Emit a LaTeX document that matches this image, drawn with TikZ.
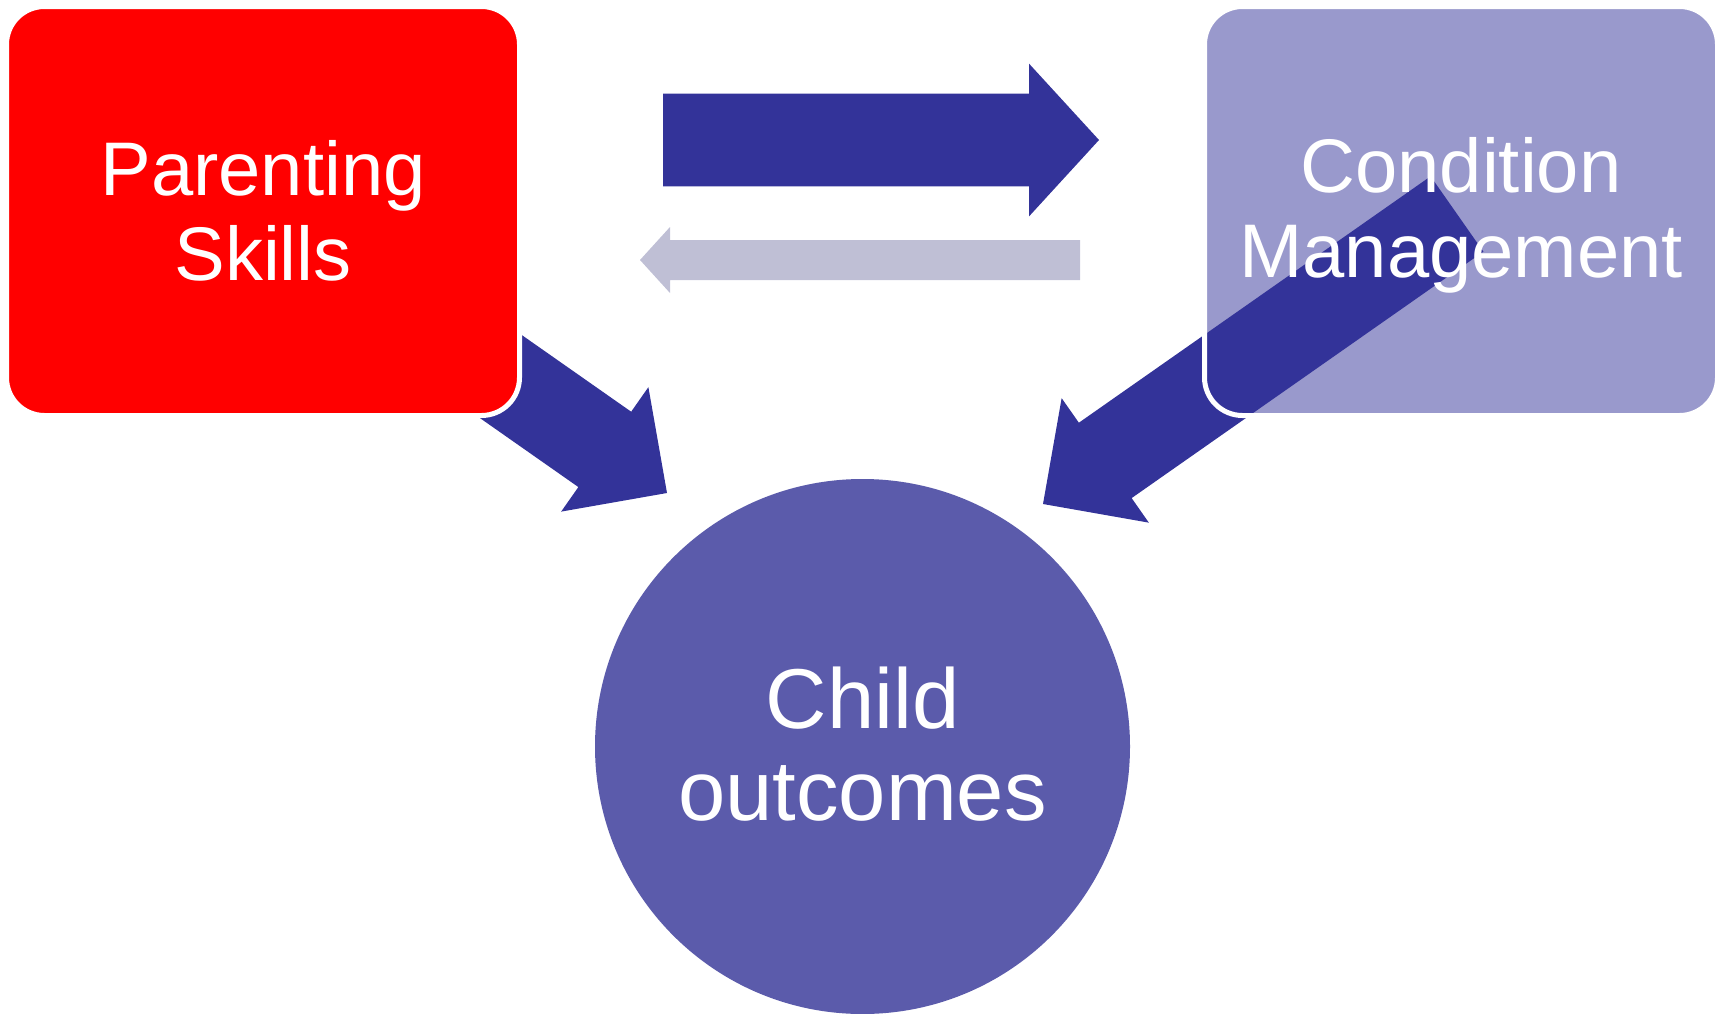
\documentclass[tikz,border=0pt]{standalone}
\usepackage{fontspec}
\setmainfont{Liberation Sans}
\usetikzlibrary{calc}

\definecolor{lilac}{RGB}{153,153,204}
\definecolor{navy}{RGB}{51,51,153}
\definecolor{paleblue}{RGB}{191,191,213}
\definecolor{disc}{RGB}{91,91,171}

% fat arrow: colour, tail, tip, half body, half head, head length
\newcommand{\blockarrow}[6]{%
  \coordinate (hb) at ($(#3)!#6!(#2)$);
  \fill[#1] ($(#2)!#4!90:(#3)$) -- ($(hb)!#4!90:(#3)$) -- ($(hb)!#5!90:(#3)$)
    -- (#3) -- ($(hb)!#5!-90:(#3)$) -- ($(hb)!#4!-90:(#3)$)
    -- ($(#2)!#4!-90:(#3)$) -- cycle;}

\begin{document}
\begin{tikzpicture}[x=0.5pt, y=-0.5pt,
    box/.style={rectangle, rounded corners=19pt, minimum width=256.5pt,
      minimum height=204.5pt, line width=2.5pt, text=white, align=center,
      font=\fontsize{38}{42.5}\selectfont},
    label/.style={text=white, align=center, text depth=0pt}]
    \useasboundingbox (0,0) rectangle (1725,1013);
    % Skills -> outcomes, runs under the box
    \coordinate (lefttail) at (249,200);
    \coordinate (lefttip) at (667,493);
    \blockarrow{navy}{lefttail}{lefttip}{23pt}{38pt}{38pt}
    % Parenting box
    \node[box, fill=red, draw=white] (parent) at (263,211) {Parenting\\Skills};
    % Condition box, its arrow sits on the fill
    \node[box, fill=lilac] (cond) at (1461,211) {};
    \coordinate (righttail) at (1457,214);
    \coordinate (righttip) at (1043,504);
    \blockarrow{navy}{righttail}{righttip}{23pt}{38pt}{38pt}
    % white rim and text go over the arrow
    \node[box, draw=white] (condrim) at (cond) {};
    \node[label, font=\fontsize{38}{42.5}\selectfont] (condlabel)
      at ([yshift=2pt]cond.center) {Condition\\Management};
    % Arrows between the boxes
    \coordinate (fwdtail) at (663,140);
    \coordinate (fwdtip) at (1099,140);
    \blockarrow{navy}{fwdtail}{fwdtip}{23.2pt}{38.2pt}{35pt}
    \coordinate (backtail) at (1080,260);
    \coordinate (backtip) at (640,260);
    \blockarrow{paleblue}{backtail}{backtip}{10pt}{16.5pt}{15pt}
    % Outcomes circle
    \node[circle, fill=disc, minimum size=267.5pt, inner sep=0pt] (child)
      at (862.5,746.5) {};
    \node[label, font=\fontsize{42.5}{46}\selectfont] (childlabel)
      at ([yshift=1.5pt]child.center) {Child\\outcomes};
\end{tikzpicture}
\end{document}
